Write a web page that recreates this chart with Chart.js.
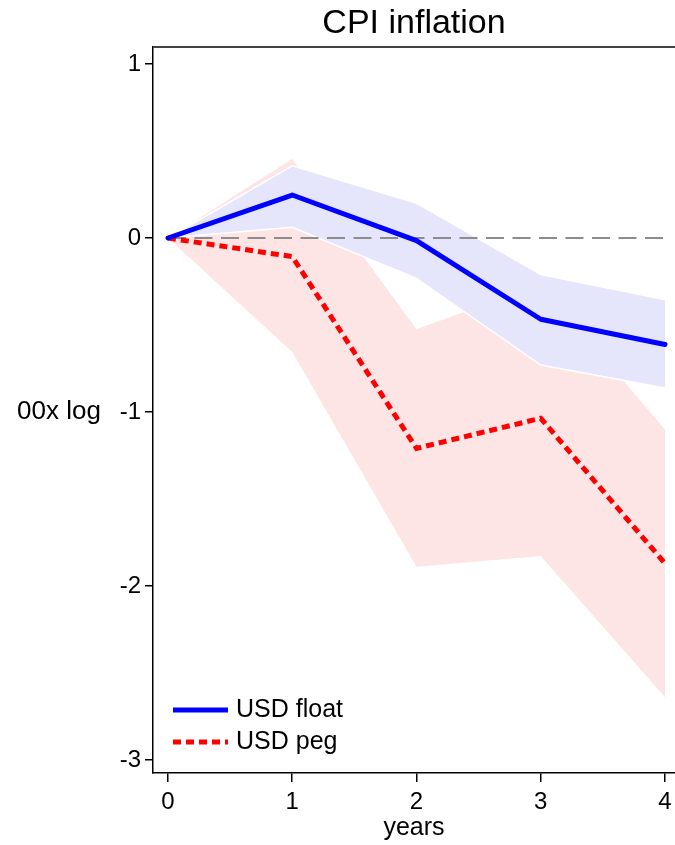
<!DOCTYPE html>
<html>
<head>
<meta charset="utf-8">
<script src="https://cdn.jsdelivr.net/npm/chart.js@4.4.1/dist/chart.umd.min.js"></script>
<style>
  html, body { margin: 0; padding: 0; background: #ffffff; }
  #wrap { width: 675px; height: 845px; }
</style>
</head>
<body>
<div id="wrap"><canvas id="c" width="675" height="845"></canvas></div>
<script>
// ---- data ----
const chartTitle = 'CPI inflation';
const xTitle = 'years';
const yTitle = '00x log';
const years = [0, 1, 2, 3, 4];
const yTicks = [1, 0, -1, -2, -3];
const seriesLabels = ['USD float', 'USD peg'];
const usdFloat = [0, 0.247, -0.015, -0.467, -0.612];
const floatUpper = [0, 0.415, 0.20, -0.21, -0.355];
const floatLower = [0, 0.062, -0.232, -0.73, -0.862];
const usdPeg = [0, -0.107, -1.209, -1.036, -1.87];
const pegUpper = [0, 0.454, -0.525, -0.265, -1.10];
const pegLower = [0, -0.655, -1.89, -1.828, -2.64];
const zeroLine = [0, 0];
const zeroX = [0, 4];

const FONT = "'Liberation Sans', Arial, Helvetica, sans-serif";
const BLUE = '#0000ff';
const RED = '#ff0000';
const BLUE_BAND = 'rgb(229,229,252)';
const RED_BAND = 'rgb(253,229,229)';

const pts = (xs, ys) => xs.map((x, i) => ({ x: x, y: ys[i] }));

const lineStyles = [
  { color: BLUE, width: 5, dash: [] },
  { color: RED, width: 5, dash: [8, 5] }
];

const legendPlugin = {
  id: 'innerLegend',
  afterDraw(chart) {
    const { ctx, chartArea } = chart;
    ctx.save();
    seriesLabels.forEach((lab, i) => {
      const st = lineStyles[i];
      const y = chartArea.bottom - 63 + i * 32;
      const x0 = chartArea.left + 20;
      ctx.beginPath();
      ctx.strokeStyle = st.color;
      ctx.lineWidth = st.width;
      ctx.setLineDash(st.dash);
      ctx.lineCap = 'butt';
      ctx.moveTo(x0, y);
      ctx.lineTo(x0 + 55, y);
      ctx.stroke();
      ctx.setLineDash([]);
      ctx.fillStyle = '#000';
      ctx.font = '25px ' + FONT;
      ctx.textAlign = 'left';
      ctx.textBaseline = 'middle';
      ctx.fillText(lab, x0 + 63, y);
    });
    // horizontal y-axis title
    const yPix = chart.scales.y.getPixelForValue(-1);
    ctx.font = '26px ' + FONT;
    ctx.fillStyle = '#000';
    ctx.textAlign = 'left';
    ctx.textBaseline = 'middle';
    ctx.fillText(yTitle, 17, yPix);
    // top frame line
    ctx.beginPath();
    ctx.strokeStyle = '#444444';
    ctx.lineWidth = 2;
    ctx.moveTo(chartArea.left, chartArea.top);
    ctx.lineTo(chartArea.right, chartArea.top);
    ctx.stroke();
    ctx.restore();
  }
};

const chart = new Chart(document.getElementById('c'), {
  type: 'line',
  data: {
    datasets: [
      { label: 'peg upper', data: pts(years, pegUpper), fill: '+1', backgroundColor: RED_BAND,
        borderWidth: 0, borderColor: 'rgba(0,0,0,0)', pointRadius: 0, order: 8 },
      { label: 'peg lower', data: pts(years, pegLower), fill: false,
        borderWidth: 0, borderColor: 'rgba(0,0,0,0)', pointRadius: 0, order: 7 },
      { label: 'float upper', data: pts(years, floatUpper), fill: '+1', backgroundColor: BLUE_BAND,
        borderWidth: 1.5, borderColor: '#ffffff', pointRadius: 0, order: 6 },
      { label: 'float lower', data: pts(years, floatLower), fill: false,
        borderWidth: 1.5, borderColor: '#ffffff', pointRadius: 0, order: 5 },
      { label: 'zero', data: pts(zeroX, zeroLine), fill: false, borderWidth: 2,
        borderColor: '#8c8c8c', borderDash: [18, 8.5], pointRadius: 0, order: 4 },
      { label: seriesLabels[1], data: pts(years, usdPeg), fill: false, borderWidth: 5,
        borderColor: RED, borderDash: [8, 5], borderCapStyle: 'butt', pointRadius: 0, order: 3 },
      { label: seriesLabels[0], data: pts(years, usdFloat), fill: false, borderWidth: 5,
        borderColor: BLUE, borderCapStyle: 'round', borderJoinStyle: 'round', pointRadius: 0, order: 2 }
    ]
  },
  options: {
    responsive: false,
    animation: false,
    layout: { padding: 0 },
    elements: { line: { tension: 0 } },
    plugins: {
      legend: { display: false },
      tooltip: { enabled: false },
      title: {
        display: true, text: chartTitle, fullSize: false, color: '#000',
        font: { family: FONT, size: 34, weight: 'normal', lineHeight: 1.2 },
        padding: { top: 3, bottom: 3.2 }
      }
    },
    scales: {
      x: {
        type: 'linear', min: -0.1207, max: 4.0805,
        afterBuildTicks: s => { s.ticks = years.map(v => ({ value: v })); },
        afterFit: s => { s.height = 72; s.paddingLeft = 0; s.paddingRight = 0; },
        grid: { drawOnChartArea: false, drawTicks: true, tickLength: 9, color: '#000', lineWidth: 1.5 },
        border: { display: true, color: '#000', width: 1.5 },
        ticks: { color: '#000', padding: 6, font: { family: FONT, size: 24 }, callback: v => String(v) },
        title: { display: true, text: xTitle, color: '#000', font: { family: FONT, size: 25 },
                 padding: { top: 0, bottom: 2 } }
      },
      y: {
        type: 'linear', min: -3.0747, max: 1.0977,
        afterBuildTicks: s => { s.ticks = yTicks.map(v => ({ value: v })); },
        afterFit: s => { s.width = 153; s.paddingTop = 0; s.paddingBottom = 0; },
        grid: { drawOnChartArea: false, drawTicks: true, tickLength: 8, color: '#000', lineWidth: 1.5 },
        border: { display: true, color: '#000', width: 1.5 },
        ticks: { color: '#000', padding: 4, font: { family: FONT, size: 24 }, callback: v => String(v) }
      }
    }
  },
  plugins: [legendPlugin]
});
</script>
</body>
</html>
